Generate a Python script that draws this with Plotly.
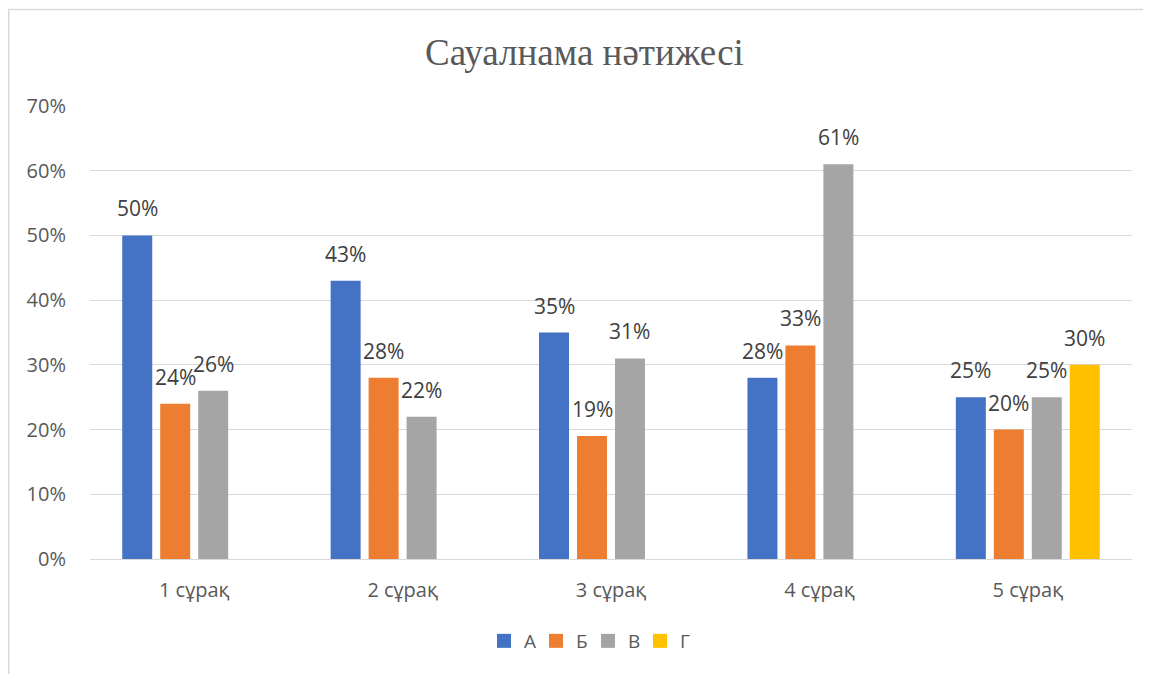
import plotly.graph_objects as go

categories = ["1 сұрақ", "2 сұрақ", "3 сұрақ", "4 сұрақ", "5 сұрақ"]
series_names = ["А", "Б", "В", "Г"]
values_a = [0.50, 0.43, 0.35, 0.28, 0.25]
values_b = [0.24, 0.28, 0.19, 0.33, 0.20]
values_v = [0.26, 0.22, 0.31, 0.61, 0.25]
values_g = [None, None, None, None, 0.30]
colors = ["#4472C4", "#ED7D31", "#A5A5A5", "#FFC000"]
y_ticks = [0, 0.1, 0.2, 0.3, 0.4, 0.5, 0.6, 0.7]

FONT = "Open Sans"
W, H = 1151, 674
ML, MR, MT, MB = 82, 27, 98, 123
pw, ph = W - ML - MR, H - MT - MB
BARGAP, GROUPGAP = 0.271, 0.21

all_series = [values_a, values_b, values_v, values_g]

fig = go.Figure()
for name, vals, col in zip(series_names, all_series, colors):
    fig.add_trace(go.Bar(
        name=name, x=categories, y=vals, marker_color=col, marker_line_width=0,
        showlegend=False, legendgroup=name,
    ))
# legend entries with larger square swatches
for name, col in zip(series_names, colors):
    fig.add_trace(go.Scatter(
        name=name, x=[None], y=[None], mode="markers", legendgroup=name,
        marker=dict(symbol="square", size=14, color=col), showlegend=True,
    ))

# data labels above each bar
slot = pw / len(categories) * (1 - BARGAP) / len(series_names)
for i, vals in enumerate(all_series):
    for cat, v in zip(categories, vals):
        if v is None:
            continue
        fig.add_annotation(
            x=cat, y=v, text=f"{round(v*100)}%", showarrow=False,
            xanchor="center", yanchor="bottom",
            xshift=(i - (len(series_names) - 1) / 2) * slot, yshift=11,
            font=dict(family=FONT, size=21, color="#404040"),
        )

def px_x(x):
    return (x - ML) / pw

def px_y(y):
    return (H - MB - y) / ph

fig.add_shape(type="rect", xref="paper", yref="paper",
              x0=px_x(0.75), x1=px_x(1160), y0=px_y(690), y1=px_y(1.5),
              line=dict(color="#D9D9D9", width=1.5), fillcolor="rgba(0,0,0,0)", layer="below")

fig.update_layout(
    width=W, height=H,
    margin=dict(l=ML, r=MR, t=MT, b=MB),
    paper_bgcolor="white", plot_bgcolor="white",
    barmode="group", bargap=BARGAP, bargroupgap=GROUPGAP,
    title=dict(text="Сауалнама нәтижесі", x=576.5 / W, xanchor="center",
               y=1 - 44 / H, yanchor="middle",
               font=dict(family="Liberation Serif", size=37, color="#595959")),
    xaxis=dict(showgrid=False, showline=False, ticks="",
               tickfont=dict(family=FONT, size=20, color="#595959"),
               ticklabelstandoff=17),
    yaxis=dict(range=[0, 0.7], tickvals=y_ticks, tickformat=".0%",
               showgrid=True, gridcolor="#D9D9D9", gridwidth=1,
               zeroline=True, zerolinecolor="#D9D9D9", zerolinewidth=1,
               showline=False, ticks="",
               tickfont=dict(family=FONT, size=20, color="#595959"),
               ticklabelstandoff=23),
    legend=dict(orientation="h", x=px_x(580), xanchor="center",
                y=px_y(614), yanchor="top",
                font=dict(family=FONT, size=19, color="#595959"),
                itemwidth=30, traceorder="normal",
                entrywidth=7, entrywidthmode="pixels"),
    showlegend=True,
)

fig.write_html("out.html")
